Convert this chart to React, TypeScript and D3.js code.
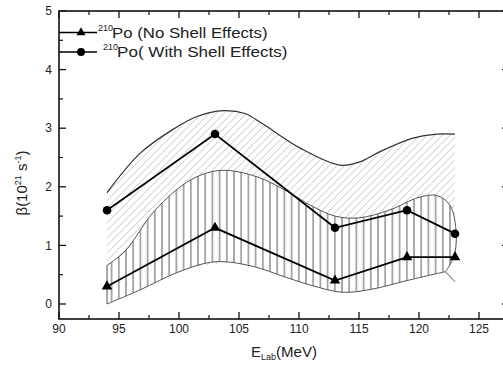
import React from "react";
import * as d3 from "d3";

// ---- data ----
const energies = [94, 103, 113, 119, 123];
const betaNoShell = [0.3, 1.3, 0.4, 0.8, 0.8];
const betaWithShell = [1.6, 2.9, 1.3, 1.6, 1.2];

// hatched band (with shell effects) - upper envelope
const withShellBandX = [94, 96.75, 99.5, 101.5, 103.7, 105.5, 107, 110.1, 113.4, 115, 116.75, 119.5, 121.5, 123];
const withShellBandY = [1.9, 2.57, 2.98, 3.2, 3.3, 3.25, 3.07, 2.66, 2.37, 2.42, 2.6, 2.83, 2.9, 2.9];
const withShellLowerX = [123, 94];
const withShellLowerY = [1.3, 0.4];

// vertical-hatched band (no shell effects)
const noShellUpperX = [94, 95.5, 98, 101, 103.5, 106.5, 109.2, 111, 113, 115, 117.5, 120, 121.5, 122.6, 123.1, 122.9, 122.2];
const noShellUpperY = [0.66, 0.9, 1.6, 2.12, 2.28, 2.17, 1.9, 1.68, 1.5, 1.47, 1.6, 1.82, 1.85, 1.68, 1.2, 0.8, 0.55];
const noShellLowerX = [94, 96.75, 100, 103, 106, 109, 111, 113.6, 116, 119, 121.5, 122.2];
const noShellLowerY = [0.0, 0.24, 0.55, 0.72, 0.65, 0.45, 0.32, 0.2, 0.25, 0.4, 0.52, 0.55];
const tailX = [122.2, 123];
const tailY = [0.55, 0.38];

const xTicks = [90, 95, 100, 105, 110, 115, 120, 125];
const xMinorTicks = [92.5, 97.5, 102.5, 107.5, 112.5, 117.5, 122.5, 127.5];
const yTicks = [0, 1, 2, 3, 4, 5];
const yMinorTicks = [0.5, 1.5, 2.5, 3.5, 4.5];

const legendLabels = ["Po (No Shell Effects)", "Po( With Shell Effects)"];

const W = 503;
const H = 365;
const L = 59, R = 509, T = 11, B = 319;

const x = d3.scaleLinear().domain([90, 127.5]).range([L, R]);
const y = d3.scaleLinear().domain([-0.256, 5]).range([B, T]);

type P = [number, number];
const zip = (xs: number[], ys: number[]): P[] => xs.map((v, i) => [v, ys[i]]);

const smooth = d3.line<P>().x(d => x(d[0])).y(d => y(d[1])).curve(d3.curveCatmullRom.alpha(0.5));
const straight = d3.line<P>().x(d => x(d[0])).y(d => y(d[1]));

const FONT = "'Liberation Sans', Arial, Helvetica, sans-serif";

export default function App() {
  const upperWith = zip(withShellBandX, withShellBandY);
  const withPath =
    (smooth(upperWith) as string) +
    (straight(zip(withShellLowerX, withShellLowerY)) as string).replace(/^M/, "L") +
    "Z";

  const nsUpper = zip(noShellUpperX, noShellUpperY);
  const nsLower = zip(noShellLowerX, noShellLowerY).reverse();
  const noShellPath =
    (smooth(nsUpper) as string) + (smooth(nsLower) as string).replace(/^M/, "L") + "Z";

  const lineNo = zip(energies, betaNoShell);
  const lineWith = zip(energies, betaWithShell);

  const tri = d3.symbol(d3.symbolTriangle, 48)() as string;

  const legendRows = [
    { yy: 32.5, kind: "tri", supX: 98, textX: 112, scale: 1.2 },
    { yy: 52, kind: "circ", supX: 103, textX: 117, scale: 1.22 },
  ];

  return (
    <div style={{ position: "absolute", left: 0, top: 0 }}>
      <svg width={W} height={H} style={{ display: "block", background: "#fff" }} fontFamily={FONT}>
        <defs>
          <pattern id="diag" patternUnits="userSpaceOnUse" width={7.5} height={7.5}>
            <path d="M0,7.5 L7.5,0 M-1,1 L1,-1 M6.5,8.5 L8.5,6.5" stroke="#b0b0b0" strokeWidth={0.75} />
          </pattern>
          <pattern id="vert" patternUnits="userSpaceOnUse" width={7.2} height={10}>
            <line x1={3.6} x2={3.6} y1={0} y2={10} stroke="#333" strokeWidth={0.85} />
          </pattern>
        </defs>

        {/* with-shell band */}
        <path d={withPath} fill="url(#diag)" stroke="none" />
        <path d={smooth(upperWith) as string} fill="none" stroke="#333" strokeWidth={1.2} />

        {/* no-shell band */}
        <path d={noShellPath} fill="#fff" stroke="none" />
        <path d={noShellPath} fill="url(#vert)" stroke="#555" strokeWidth={1} />
        <path d={straight(zip(tailX, tailY)) as string} fill="none" stroke="#555" strokeWidth={1} />

        {/* data lines */}
        <path d={straight(lineWith) as string} fill="none" stroke="#000" strokeWidth={1.8} />
        <path d={straight(lineNo) as string} fill="none" stroke="#000" strokeWidth={1.8} />
        {lineWith.map((d, i) => (
          <circle key={"c" + i} cx={x(d[0])} cy={y(d[1])} r={4.3} fill="#000" />
        ))}
        {lineNo.map((d, i) => (
          <path key={"t" + i} d={tri} transform={`translate(${x(d[0])},${y(d[1])})`} fill="#000" />
        ))}

        {/* frame */}
        <rect x={L} y={T} width={R - L} height={B - T} fill="none" stroke="#111" strokeWidth={1.6} />

        {/* x ticks */}
        {xTicks.map(t => (
          <g key={"xt" + t}>
            <line x1={x(t)} x2={x(t)} y1={B} y2={B - 7} stroke="#111" strokeWidth={1.3} />
            <line x1={x(t)} x2={x(t)} y1={T} y2={T + 7} stroke="#111" strokeWidth={1.3} />
            <text x={x(t)} y={B + 14} fontSize={12} textAnchor="middle" fill="#222">{t}</text>
          </g>
        ))}
        {xMinorTicks.map(t => (
          <g key={"xm" + t}>
            <line x1={x(t)} x2={x(t)} y1={B} y2={B - 4} stroke="#111" strokeWidth={1.2} />
            <line x1={x(t)} x2={x(t)} y1={T} y2={T + 4} stroke="#111" strokeWidth={1.2} />
          </g>
        ))}
        {/* y ticks */}
        {yTicks.map(t => (
          <g key={"yt" + t}>
            <line x1={L} x2={L + 7} y1={y(t)} y2={y(t)} stroke="#111" strokeWidth={1.3} />
            <line x1={R} x2={R - 7} y1={y(t)} y2={y(t)} stroke="#111" strokeWidth={1.3} />
            <text x={52} y={y(t) + 4.3} fontSize={12} textAnchor="end" fill="#222">{t}</text>
          </g>
        ))}
        {yMinorTicks.map(t => (
          <g key={"ym" + t}>
            <line x1={L} x2={L + 4} y1={y(t)} y2={y(t)} stroke="#111" strokeWidth={1.2} />
            <line x1={R} x2={R - 4} y1={y(t)} y2={y(t)} stroke="#111" strokeWidth={1.2} />
          </g>
        ))}

        {/* axis titles */}
        <text x={284} y={357} fontSize={15} textAnchor="middle" fill="#222">
          E<tspan fontSize={9} dy={3}>Lab</tspan>
          <tspan dy={-3}>(MeV)</tspan>
        </text>
        <text transform="translate(27,183) rotate(-90)" fontSize={15} textAnchor="middle" fill="#222">
          β(10<tspan fontSize={9} dy={-6}>21</tspan>
          <tspan dy={6}> s</tspan>
          <tspan fontSize={9} dy={-6}>-1</tspan>
          <tspan dy={6}>)</tspan>
        </text>

        {/* legend */}
        {legendRows.map((r, i) => (
          <g key={"lg" + i}>
            <line x1={L} x2={97} y1={r.yy} y2={r.yy} stroke="#000" strokeWidth={1.6} />
            {r.kind === "tri" ? (
              <path d={d3.symbol(d3.symbolTriangle, 36)() as string} transform={`translate(81,${r.yy})`} fill="#000" />
            ) : (
              <circle cx={81} cy={r.yy} r={4} fill="#000" />
            )}
            <text x={r.supX} y={r.yy - 2} fontSize={9} fill="#222">210</text>
            <text transform={`translate(${r.textX},${r.yy + 5}) scale(${r.scale},1)`} fontSize={14} fill="#222">
              {legendLabels[i]}
            </text>
          </g>
        ))}
      </svg>
    </div>
  );
}
